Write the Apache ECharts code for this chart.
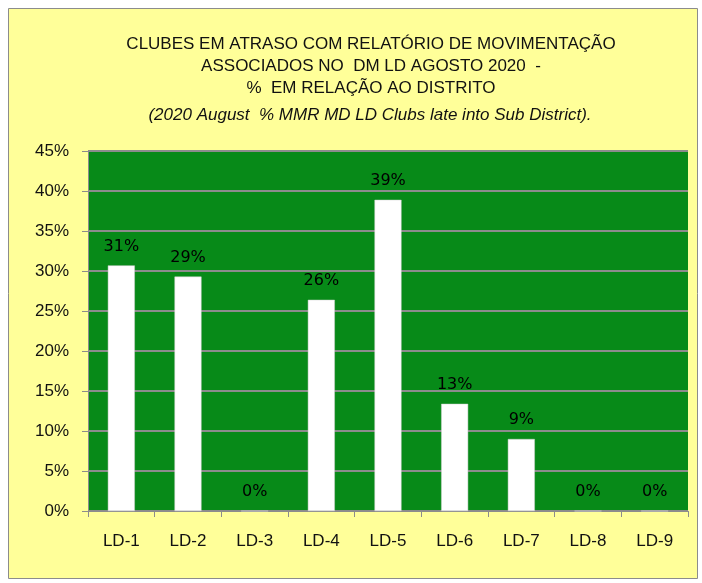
<!DOCTYPE html>
<html>
<head>
<meta charset="utf-8">
<script src="https://cdn.jsdelivr.net/npm/echarts@6/dist/echarts.min.js"></script>
<style>
  html, body { margin: 0; padding: 0; background: #fff; }
  #chart { width: 702px; height: 583px; }
</style>
</head>
<body>
<div id="chart"></div>
<script>
var categories = ['LD-1', 'LD-2', 'LD-3', 'LD-4', 'LD-5', 'LD-6', 'LD-7', 'LD-8', 'LD-9'];
var values = [30.7, 29.3, 0, 26.4, 38.9, 13.4, 9.0, 0, 0];
var titleLines = [
  'CLUBES EM ATRASO COM RELATÓRIO DE MOVIMENTAÇÃO',
  'ASSOCIADOS NO  DM LD AGOSTO 2020  -',
  '%  EM RELAÇÃO AO DISTRITO'
];
var subTitle = '(2020 August  % MMR MD LD Clubs late into Sub District).';

var labelFont = '"Liberation Sans", sans-serif';

var myChart = echarts.init(document.getElementById('chart'));

var option = {
  backgroundColor: '#fff',
  graphic: [
    {
      type: 'rect',
      shape: { x: 8.5, y: 8.5, width: 689, height: 570 },
      style: { fill: '#FFFF99', stroke: '#8c8c8c', lineWidth: 1 },
      z: -10
    }
  ],
  title: [
    {
      text: titleLines.join('\n'),
      left: 366,
      textAlign: 'center',
      top: 28,
      textStyle: {
        fontFamily: labelFont,
        fontSize: 17,
        fontWeight: 'normal',
        color: '#111',
        lineHeight: 22
      }
    },
    {
      text: subTitle,
      left: 365,
      textAlign: 'center',
      top: 102,
      textStyle: {
        fontFamily: labelFont,
        fontSize: 17,
        fontStyle: 'italic',
        fontWeight: 'normal',
        color: '#111'
      }
    }
  ],
  grid: {
    left: 88,
    right: 14,
    top: 151,
    bottom: 72,
    show: true,
    backgroundColor: '#078A18',
    borderWidth: 0
  },
  xAxis: {
    type: 'category',
    data: categories,
    axisLine: { lineStyle: { color: '#8c8c8c', width: 1 } },
    axisTick: { show: true, length: 6, lineStyle: { color: '#8c8c8c' } },
    axisLabel: {
      margin: 22,
      fontFamily: labelFont,
      fontSize: 17,
      color: '#111'
    }
  },
  yAxis: {
    type: 'value',
    min: 0,
    max: 45,
    interval: 5,
    axisLine: { show: true, lineStyle: { color: '#8c8c8c', width: 1 } },
    axisTick: { show: true, length: 6, lineStyle: { color: '#8c8c8c' } },
    splitLine: { show: true, lineStyle: { color: '#8c8c8c', width: 2 } },
    axisLabel: {
      formatter: '{value}%',
      margin: 19,
      fontFamily: labelFont,
      fontSize: 17,
      color: '#111'
    }
  },
  series: [{
    type: 'bar',
    data: values,
    barWidth: 27,
    itemStyle: { color: '#fff', borderColor: '#d0d0d0', borderWidth: 0.5 },
    label: {
      show: true,
      position: 'top',
      distance: 11,
      formatter: function (p) { return Math.round(p.value) + '%'; },
      fontFamily: 'DejaVu Sans, sans-serif',
      fontSize: 16,
      color: '#000'
    }
  }]
};

myChart.setOption(option);
</script>
</body>
</html>
